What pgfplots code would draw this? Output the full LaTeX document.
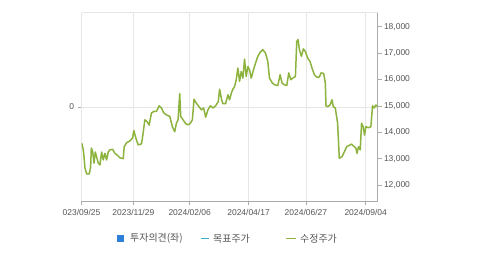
\documentclass[border=0pt]{standalone}
\usepackage{pgfplots}
\pgfplotsset{compat=1.18}
\usepackage{fontspec}
\setmainfont{Liberation Sans}
\newfontfamily\kr{Noto Sans CJK KR}
\definecolor{grn}{HTML}{8DB33F}
\definecolor{lblue}{HTML}{2E7FD9}
\definecolor{tealc}{HTML}{3AAFC6}
\definecolor{gridc}{HTML}{E6E6E6}
\definecolor{axc}{HTML}{ABABAB}
\definecolor{txtc}{HTML}{555555}
\begin{document}
\begin{tikzpicture}[x=1bp,y=1bp]
\path[use as bounding box, fill=white] (0,0) rectangle (479,254);
\begin{axis}[at={(81.5bp,53bp)}, anchor=south west, scale only axis,
  width=296bp, height=188.3bp,
  xmin=64.5, xmax=955, ymin=-1, ymax=1,
  axis x line*=top, axis y line*=left,
  x axis line style={gridc, line width=0.7bp, -},
  y axis line style={axc, line width=0.7bp, -},
  xtick=\empty,
  ytick={0}, yticklabels={0}, tick align=outside,
  major tick length=4bp,
  ymajorgrids, grid style={gridc, line width=0.6bp},
  tick style={axc, line width=0.6bp},
  yticklabel style={font=\fontsize{8.5}{10}\selectfont, text=txtc},
]
\addplot[draw=none] coordinates {(64.5,0)};
\end{axis}
\begin{axis}[at={(81.5bp,53bp)}, anchor=south west, scale only axis,
  width=296bp, height=188.3bp,
  xmin=64.5, xmax=955, ymin=11392, ymax=18532,
  axis x line*=bottom, axis y line*=right,
  axis line style={axc, line width=0.7bp, -},
  xtick={64.5,220.5,390,567,739.5,919.5},
  xticklabels={023/09/25,2023/11/29,2024/02/06,2024/04/17,2024/06/27,2024/09/04},
  ytick={12000,13000,14000,15000,16000,17000,18000},
  scaled y ticks=false,
  /pgf/number format/assume math mode=true,
  tick align=outside, major tick length=4bp,
  tick style={axc, line width=0.6bp},
  xmajorgrids, grid style={gridc, line width=0.6bp},
  tick label style={font=\fontsize{8.5}{10}\selectfont, text=txtc},
  xticklabel style={yshift=-1bp},
  yticklabel style={xshift=-1bp},
]
\addplot[grn, line width=1.5bp, line join=round] coordinates {
(65,13594)(70,13330)(75,12640)(80,12420)(88,12420)(92,12680)(94,13400)(98,13280)
(102,12830)(106,13250)(110,13060)(115,12830)(120,12760)(125,13250)(130,12950)
(135,13200)(140,12950)(145,13250)(150,13330)(158,13350)(165,13200)(172,13130)
(180,13030)(190,13000)(193,13450)(200,13600)(210,13670)(218,13780)(222,14060)
(228,13780)(235,13520)(245,13560)(250,13970)(255,14470)(262,14400)(268,14270)
(275,14730)(282,14790)(290,14790)(298,15000)(305,14920)(312,14730)(320,14660)
(330,14600)(338,14210)(345,14020)(350,14340)(355,14470)(360,15460)(363,14600)
(370,14470)(378,14320)(385,14280)(392,14340)(398,14470)(403,15250)(410,15100)
(418,14970)(425,14850)(432,14920)(438,14570)(445,14850)(452,15000)(460,14920)
(468,15000)(476,15160)(480,15630)(486,15230)(490,15080)(498,15080)(505,15420)
(510,15230)(515,15480)(520,15630)(525,15730)(530,15990)(535,16430)(540,15930)
(545,16300)(550,16050)(555,16770)(560,16110)(565,16490)(570,16370)(575,16050)
(582,16370)(588,16620)(595,16880)(602,17030)(610,17130)(618,17000)(625,16680)
(630,16050)(638,15880)(645,15800)(655,15770)(662,16180)(668,15860)(675,15800)
(682,15770)(688,16250)(694,15990)(700,16050)(708,16110)(712,17440)(716,17510)
(720,17130)(726,16880)(732,17160)(738,17060)(745,16810)(752,16680)(758,16430)
(765,16180)(772,16090)(780,16090)(785,16250)(793,16230)(798,15860)(800,15000)
(805,14970)(812,15030)(818,15230)(822,14970)(828,14920)(835,14340)(840,13010)
(848,13070)(855,13250)(862,13450)(870,13500)(877,13550)(883,13470)(890,13400)
(893,13200)(898,13450)(903,13330)(907,14340)(912,14210)(916,13890)(920,14210)
(928,14170)(935,14210)(940,15000)(945,14920)(950,15030)(955,14970)
};
\end{axis}
\fill[lblue] (117,12) rectangle (124,19);
\node[anchor=west, inner sep=0, text=txtc, font=\kr\fontsize{10}{12}\selectfont] at (130,15.5) {투자의견(좌)};
\draw[tealc, line width=1.6bp] (201,15.5)--(209,15.5);
\node[anchor=west, inner sep=0, text=txtc, font=\kr\fontsize{10}{12}\selectfont] at (213,15.5) {목표주가};
\draw[grn, line width=1.6bp] (286,15.5)--(296,15.5);
\node[anchor=west, inner sep=0, text=txtc, font=\kr\fontsize{10}{12}\selectfont] at (300,15.5) {수정주가};
\end{tikzpicture}
\end{document}
